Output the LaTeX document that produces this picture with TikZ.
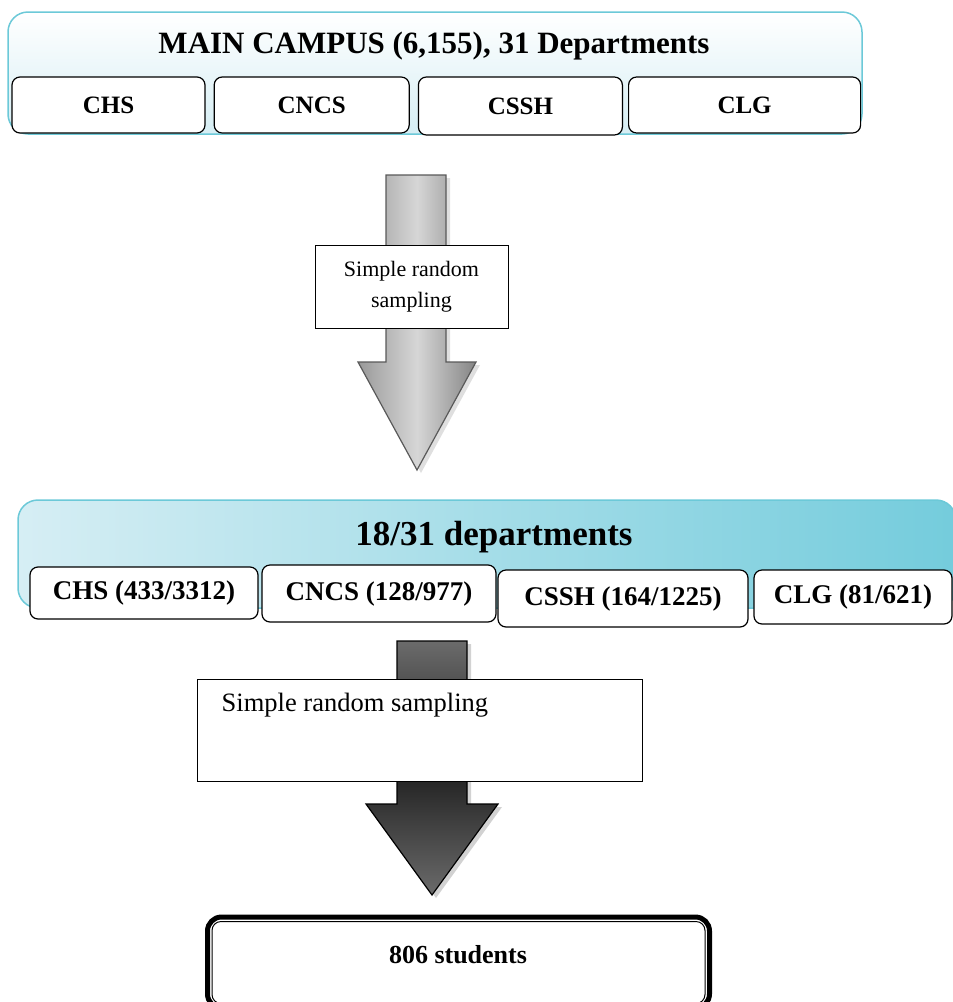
\documentclass[tikz,border=0pt]{standalone}
\usepackage{fontspec}
\setmainfont{Liberation Serif}
\usepackage{xcolor}
\usepackage{tikz}
\usetikzlibrary{shapes, arrows, positioning, shadows}

\definecolor{bannerEdge}{HTML}{6CC9D8}
\definecolor{bannerLight}{HTML}{D6EEF4}
\definecolor{bannerDeep}{HTML}{74CCDC}

\begin{document}
\begin{tikzpicture}[x=1pt, y=-1pt,
    banner/.style={draw=bannerEdge, line width=1.5pt, rounded corners=20pt, inner sep=0pt},
    deptbox/.style={draw, line width=1.2pt, rounded corners=8pt, fill=white, inner sep=0pt, font=\bfseries\fontsize{25}{30}\selectfont},
    deptbig/.style={deptbox, font=\bfseries\fontsize{27}{32}\selectfont},
    samplebox/.style={draw, line width=1pt, fill=white, inner sep=0pt},
    grayarrow/.style={draw=black!65, line width=1.2pt, left color=black!40, right color=black!48, middle color=black!16, drop shadow={shadow xshift=4pt, shadow yshift=-3pt, fill=black!25}},
    darkarrow/.style={draw=black, line width=1.2pt, top color=black!58, bottom color=black!58, middle color=black!88, drop shadow={shadow xshift=4pt, shadow yshift=-3pt, fill=black!35}}]
        \useasboundingbox (0,0) rectangle (953,1002);
        % Main campus
        \node[banner, top color=white, bottom color=bannerLight, minimum width=854pt, minimum height=122pt] (campus) at (435,73) {};
        \node[font=\bfseries\fontsize{31}{36}\selectfont] (campustitle) at (434,46) {MAIN CAMPUS (6,155), 31 Departments};
        % Colleges
        \node[deptbox, minimum width=193pt, minimum height=56pt] (chs) at (108.5,105) {CHS};
        \node[deptbox, minimum width=195pt, minimum height=56pt, right=8pt of chs] (cncs) {CNCS};
        \node[deptbox, minimum width=204pt, minimum height=58pt, right=8pt of cncs, yshift=-1pt] (cssh) {CSSH};
        \node[deptbox, minimum width=232pt, minimum height=56pt, right=5pt of cssh, yshift=1pt] (clg) {CLG};
        % First sampling
        \path[grayarrow] (386,175) -- (446,175) -- (446,362) -- (476,362) -- (417,470) -- (358,362) -- (386,362) -- cycle;
        \node[samplebox, minimum width=193pt, minimum height=83pt, align=center, font=\fontsize{22}{31}\selectfont] (srs1) at (411.5,286.5) {Simple random\\sampling};
        % Selected departments
        \node[banner, left color=bannerLight, right color=bannerDeep, minimum width=938pt, minimum height=108pt] (selected) at (487,554) {};
        \node[font=\bfseries\fontsize{35}{40}\selectfont] (selectedtitle) at (494,537) {18/31 departments};
        \node[deptbig, minimum width=228pt, minimum height=52pt] (chs2) at (144,593) {CHS (433/3312)};
        \node[deptbig, minimum width=234pt, minimum height=57pt] (cncs2) at (379,593.5) {CNCS (128/977)};
        \node[deptbig, minimum width=250pt, minimum height=57pt] (cssh2) at (623,598.5) {CSSH (164/1225)};
        \node[deptbig, minimum width=198pt, minimum height=54pt] (clg2) at (853,597) {CLG (81/621)};
        % Second sampling
        \path[darkarrow] (397,641) -- (467,641) -- (467,804) -- (498,804) -- (432,895) -- (366,804) -- (397,804) -- cycle;
        \node[samplebox, minimum width=445pt, minimum height=102pt] (srs2) at (419.5,730) {};
        \node[anchor=west, inner sep=0pt, font=\fontsize{26.5}{31}\selectfont] (srs2text) at ([xshift=25pt, yshift=-27pt]srs2.north west) {Simple random sampling};
        % Students
        \node[draw, line width=5pt, rounded corners=14pt, fill=white, minimum width=502pt, minimum height=91pt] (total) at (458.5,962.5) {};
        \draw[line width=1pt, rounded corners=9pt] ([shift={(7pt,-7pt)}]total.north west) rectangle ([shift={(-7pt,7pt)}]total.south east);
        \node[font=\bfseries\fontsize{26}{30}\selectfont] (totaltext) at (458,955) {806 students};
    \end{tikzpicture}
\end{document}
